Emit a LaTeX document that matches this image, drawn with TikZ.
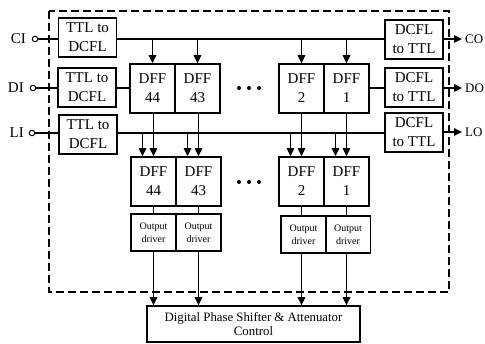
\documentclass[tikz,border=0pt]{standalone}
\usepackage{fontspec}
\setmainfont{Liberation Serif}
\usetikzlibrary{arrows.meta}
\begin{document}
\begin{tikzpicture}[x=1pt,y=-1pt,
  blk/.style={draw,line width=1.6pt,inner sep=0pt,align=center,font=\fontsize{15}{19}\selectfont},
  conv/.style={blk,minimum width=58pt,minimum height=39pt},
  dff/.style={blk,minimum width=45pt,minimum height=49pt},
  drv/.style={blk,minimum width=45pt,minimum height=37pt,font=\fontsize{10}{13}\selectfont},
  wire/.style={line width=1.4pt},
  arr/.style={line width=1.4pt,-{Triangle[length=8pt,width=7.5pt]}},
  pin/.style={circle,draw,line width=1pt,inner sep=0pt,minimum size=5.5pt},
  lbl/.style={font=\fontsize{15}{17}\selectfont,inner sep=0pt}]
\useasboundingbox (0,0) rectangle (485,343);
% dashed boundary
\draw[line width=1.5pt,dash pattern=on 8pt off 4pt] (49,11) rectangle (449,292);
% input converters
\node[conv] (ttlC) at (87.5,37.5) {TTL to\\DCFL};
\node[conv] (ttlD) at (87,87.5) {TTL to\\DCFL};
\node[conv] (ttlL) at (88,134.5) {TTL to\\DCFL};
% output converters
\node[conv] (dcflC) at (414,39.5) {DCFL\\to TTL};
\node[conv] (dcflD) at (414,87.5) {DCFL\\to TTL};
\node[conv] (dcflL) at (414,132.5) {DCFL\\to TTL};
% top DFF row
\node[dff] (t44) at (152.5,88.5) {DFF\\44};
\node[dff] (t43) at (197.5,88.5) {DFF\\43};
\node[dff] (t2) at (301.5,88.5) {DFF\\2};
\node[dff] (t1) at (346.5,88.5) {DFF\\1};
% bottom DFF row
\node[dff] (b44) at (153.5,181.5) {DFF\\44};
\node[dff] (b43) at (198.5,181.5) {DFF\\43};
\node[dff] (b2) at (301.5,181.5) {DFF\\2};
\node[dff] (b1) at (346.5,181.5) {DFF\\1};
% output drivers
\node[drv] (d44) at (153.5,232.5) {Output\\driver};
\node[drv] (d43) at (198.5,232.5) {Output\\driver};
\node[drv] (d2) at (303.5,234.5) {Output\\driver};
\node[drv] (d1) at (348,234.5) {Output\\driver};
% control block
\node[blk,minimum width=213pt,minimum height=36pt,font=\fontsize{12.8}{14.5}\selectfont] (ctl) at (253.5,324) {Digital Phase Shifter \& Attenuator\\Control};
% input pins
\node[pin] (ci) at (35,39) {};
\node[pin] (di) at (33,88) {};
\node[pin] (li) at (32,133) {};
\node[lbl,anchor=east] (ciL) at (26,39) {CI};
\node[lbl,anchor=east] (diL) at (24,88) {DI};
\node[lbl,anchor=east] (liL) at (24,133) {LI};
\draw[wire] (ci) -- (ttlC.west |- ci);
\draw[wire] (di) -- (ttlD.west |- di);
\draw[wire] (li) -- (ttlL.west |- li);
% outputs
\coordinate (co) at (462,39);
\coordinate (do) at (462,88);
\coordinate (lo) at (462,132);
\draw[arr] (dcflC.east |- co) -- (co);
\draw[arr] (dcflD.east |- do) -- (do);
\draw[arr] (dcflL.east |- lo) -- (lo);
\node[lbl,anchor=west,font=\fontsize{13}{15}\selectfont] (coL) at (465,39) {CO};
\node[lbl,anchor=west,font=\fontsize{13}{15}\selectfont] (doL) at (465,88) {DO};
\node[lbl,anchor=west,font=\fontsize{13}{15}\selectfont] (loL) at (465,132) {LO};
% clock line
\draw[wire] (ttlC.east |- ci) -- (dcflC.west |- ci);
\foreach \n in {t44,t43,t2,t1}
  \draw[arr] (\n.north |- ci) -- (\n.north);
% data line
\draw[wire] (ttlD.east |- di) -- (t44.west |- di);
\draw[wire] (t1.east |- di) -- (dcflD.west |- di);
% load line
\draw[wire] (ttlL.east |- li) -- (dcflL.west |- li);
\foreach \n in {b44,b43,b2,b1}
  \draw[arr] ([xshift=-11pt]\n.north |- li) -- ([xshift=-11pt]\n.north);
% top to bottom DFF
\draw[arr] (t44.south -| b44.north) -- (b44.north);
\draw[arr] (t43.south -| b43.north) -- (b43.north);
\draw[arr] (t2.south) -- (b2.north);
\draw[arr] (t1.south) -- (b1.north);
% DFF to drivers
\draw[wire] (b44.south) -- (d44.north);
\draw[wire] (b43.south) -- (d43.north);
\draw[wire] (b2.south) -- (b2.south |- d2.north);
\draw[wire] (b1.south) -- (b1.south |- d1.north);
% drivers to control
\draw[arr] (d44.south) -- (d44.south |- ctl.north);
\draw[arr] (d43.south) -- (d43.south |- ctl.north);
\draw[arr] (b2.south |- d2.south) -- (b2.south |- ctl.north);
\draw[arr] (b1.south |- d1.south) -- (b1.south |- ctl.north);
% ellipses
\foreach \x in {239,249,259} {
  \fill (\x,88) circle (2pt);
  \fill (\x,182) circle (2pt);
}
\end{tikzpicture}
\end{document}
